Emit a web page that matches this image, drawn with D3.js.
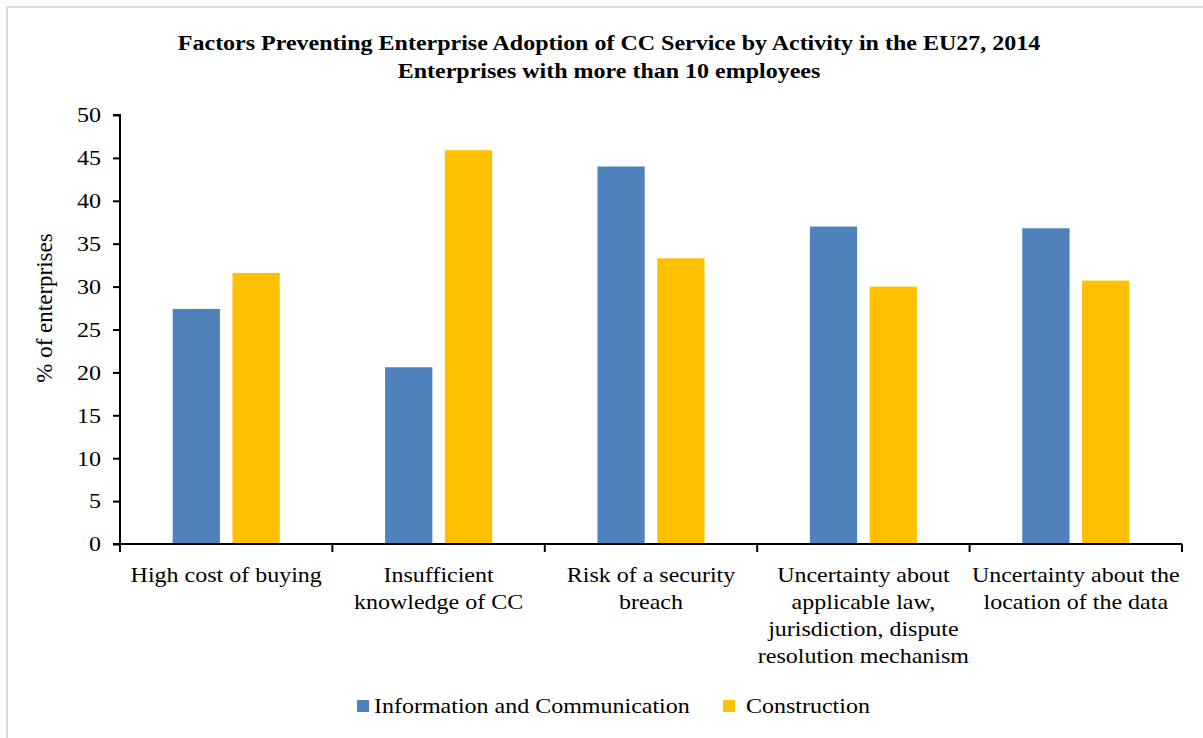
<!DOCTYPE html>
<html>
<head>
<meta charset="utf-8">
<script src="https://cdn.jsdelivr.net/npm/d3@7"></script>
<style>
  html, body { margin: 0; padding: 0; background: #fff; }
  svg { display: block; }
  text { font-family: "Liberation Serif", "Times New Roman", serif; fill: #000; }
</style>
</head>
<body>
<svg id="chart" width="1203" height="738"></svg>
<script>
// Factors preventing cloud computing adoption, EU27 2014 (% of enterprises)
const categories = [
  ["High cost of buying"],
  ["Insufficient", "knowledge of CC"],
  ["Risk of a security", "breach"],
  ["Uncertainty about", "applicable law,", "jurisdiction, dispute", "resolution mechanism"],
  ["Uncertainty about the", "location of the data"]
];
const seriesNames = ["Information and Communication", "Construction"];
const infoComm = [27.4, 20.6, 44.0, 37.0, 36.8];
const construction = [31.6, 45.9, 33.3, 30.0, 30.7];
const yTicks = [0, 5, 10, 15, 20, 25, 30, 35, 40, 45, 50];
const colors = ["#4f81bd", "#ffc000"];

const svg = d3.select("#chart");
const W = 1203, H = 738;
const SX = 1.2;               // horizontal widening of the serif lettering
const FONT = '"Liberation Serif", "Times New Roman", serif';

// outer frame (light grey), running off the right and bottom edges
svg.append("path")
  .attr("d", `M7,${H + 5} V7 H${W + 5}`)
  .attr("fill", "none")
  .attr("stroke", "#d9d9d9")
  .attr("stroke-width", 2);

const plot = { left: 120, right: 1182, top: 115, bottom: 544 };

const keys = categories.map((c, i) => i);
const x0 = d3.scaleBand().domain(keys).range([plot.left, plot.right]).padding(0);
const bw = x0.bandwidth();
const x1 = d3.scaleBand().domain(seriesNames)
  .range([bw * 0.248, bw * 0.752]).paddingInner(0.21);
const y = d3.scaleLinear().domain([0, 50]).range([plot.bottom, plot.top]);

// title
const titleLines = [
  "Factors Preventing Enterprise Adoption of CC Service by Activity in the EU27, 2014",
  "Enterprises with more than 10 employees"
];
svg.append("g").selectAll("text").data(titleLines).join("text")
  .attr("transform", (d, k) => `translate(609,${50 + k * 28}) scale(${SX},1)`)
  .attr("text-anchor", "middle")
  .style("font-weight", "bold")
  .style("font-size", "20px")
  .text(d => d);

// bars
const data = keys.map(i => ({ i, values: [infoComm[i], construction[i]] }));
const groups = svg.append("g").selectAll("g").data(data).join("g")
  .attr("transform", d => `translate(${x0(d.i)},0)`);
groups.selectAll("rect")
  .data(d => d.values.map((v, s) => ({ v, s })))
  .join("rect")
  .attr("x", d => x1(seriesNames[d.s]))
  .attr("width", x1.bandwidth())
  .attr("y", d => y(d.v))
  .attr("height", d => y(0) - y(d.v))
  .attr("fill", d => colors[d.s]);

// y axis
const yAxis = svg.append("g")
  .attr("transform", `translate(${plot.left},0)`)
  .call(d3.axisLeft(y).tickValues(yTicks).tickSize(7).tickFormat(d3.format("d")));
yAxis.select(".domain").attr("stroke", "#000").attr("stroke-width", 2)
  .attr("d", `M-7,${plot.top}H0V${plot.bottom}H-7`);
yAxis.selectAll(".tick line").attr("stroke", "#000").attr("stroke-width", 2);
yAxis.selectAll(".tick text")
  .attr("x", 0)
  .attr("dy", "0.34em")
  .attr("transform", `translate(-19,0) scale(${SX},1)`)
  .attr("fill", "#000")
  .style("font-family", FONT)
  .style("font-size", "20px");

// x axis: ticks at category boundaries
const boundaries = keys.map(i => x0(i)).concat([plot.right]);
const xAxis = svg.append("g");
xAxis.append("line")
  .attr("x1", plot.left).attr("x2", plot.right)
  .attr("y1", plot.bottom).attr("y2", plot.bottom)
  .attr("stroke", "#000").attr("stroke-width", 2);
xAxis.selectAll("line.tk").data(boundaries).join("line")
  .attr("class", "tk")
  .attr("x1", d => d).attr("x2", d => d)
  .attr("y1", plot.bottom).attr("y2", plot.bottom + 8)
  .attr("stroke", "#000").attr("stroke-width", 2);

const labels = xAxis.selectAll("text.cat").data(data).join("text")
  .attr("class", "cat")
  .attr("transform", d => `translate(${x0(d.i) + bw / 2},582) scale(${SX},1)`)
  .attr("text-anchor", "middle")
  .style("font-size", "20px");
labels.each(function (d) {
  const t = d3.select(this);
  categories[d.i].forEach((line, k) => {
    t.append("tspan").attr("x", 0).attr("y", k * 27).text(line);
  });
});

// y axis title
svg.append("text")
  .attr("transform", `translate(52,308) rotate(-90)`)
  .attr("text-anchor", "middle")
  .style("font-size", "23px")
  .text("% of enterprises");

// legend
const legendItems = [
  { name: seriesNames[0], color: colors[0], x: 357, tx: 17 },
  { name: seriesNames[1], color: colors[1], x: 723, tx: 23 }
];
const lg = svg.append("g").selectAll("g").data(legendItems).join("g")
  .attr("transform", d => `translate(${d.x},0)`);
lg.append("rect").attr("x", 0).attr("y", 700).attr("width", 12).attr("height", 12)
  .attr("fill", d => d.color);
lg.append("text")
  .attr("transform", d => `translate(${d.tx},713) scale(${SX},1)`)
  .style("font-size", "20px")
  .text(d => d.name);
</script>
</body>
</html>
